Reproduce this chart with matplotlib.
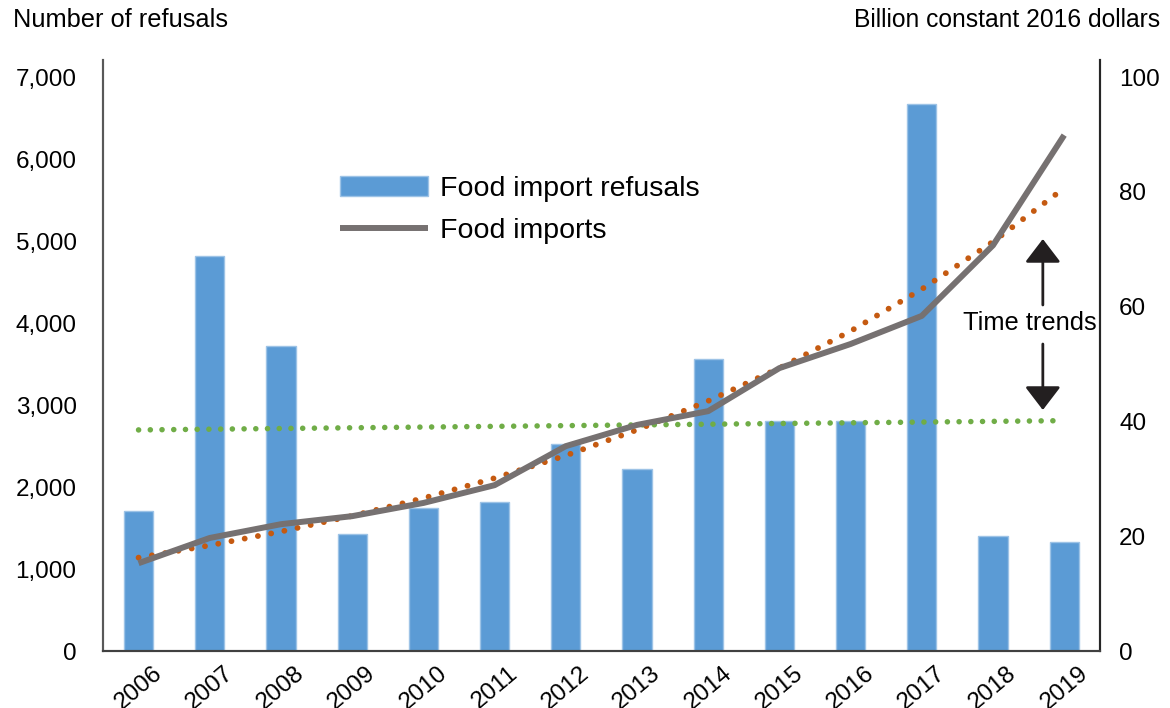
import numpy as np
import matplotlib
matplotlib.use("Agg")
import matplotlib.pyplot as plt

plt.rcParams["font.family"] = ["Liberation Sans", "DejaVu Sans"]

years = [2006, 2007, 2008, 2009, 2010, 2011, 2012, 2013, 2014, 2015, 2016, 2017, 2018, 2019]
refusals = [1707, 4817, 3720, 1427, 1744, 1817, 2524, 2220, 3561, 2805, 2805, 6671, 1402, 1329]
imports = [15.3, 19.7, 22.1, 23.5, 25.8, 28.9, 35.7, 39.4, 41.8, 49.3, 53.5, 58.4, 70.7, 89.9]

x = np.arange(len(years))

# time trends: linear for refusals, exponential for imports
lin = np.polyfit(x, refusals, 1)
refusal_trend = np.polyval(lin, x)
expo = np.polyfit(x, np.log(imports), 1)
import_trend = np.exp(np.polyval(expo, x))

fig = plt.figure(figsize=(11.7, 7.08), dpi=100)
ax = fig.add_axes([0.088, 0.0805, 0.852, 0.8345])
ax2 = ax.twinx()

bars = ax.bar(x, refusals, width=0.41, color="#5B9BD5", edgecolor="#9DC3E6",
              linewidth=1, label="Food import refusals", zorder=2)
ax.plot(x, refusal_trend, color="#70AD47", linewidth=4,
        linestyle=(0, (0.01, 2.1)), dash_capstyle="round", zorder=3)

line, = ax2.plot(x, imports, color="#767171", linewidth=4.3,
                 solid_capstyle="butt", label="Food imports", zorder=4)
ax2.plot(x, import_trend, color="#C55A11", linewidth=4.2,
         linestyle=(0, (0.01, 2.3)), dash_capstyle="round", zorder=3)

ax.set_xlim(-0.5, len(years) - 0.5)
ax.set_ylim(0, 7000 * 591 / 574)
ax2.set_ylim(0, 100 * 591 / 574)
ax.set_yticks(range(0, 7001, 1000))
ax.set_yticklabels([f"{v:,}" for v in range(0, 7001, 1000)])
ax2.set_yticks(range(0, 101, 20))
ax.set_xticks(x)
ax.set_xticklabels([str(y) for y in years], rotation=40, ha="center", va="top")

ax.tick_params(axis="y", length=0, pad=19, labelsize=17.5)
ax2.tick_params(axis="y", length=0, pad=14, labelsize=17.5)
ax.tick_params(axis="x", length=0, pad=8, labelsize=17.5)

for a in (ax, ax2):
    a.spines["top"].set_visible(False)
    a.spines["left"].set_color("#595959")
    a.spines["right"].set_color("#262626")
    a.spines["bottom"].set_color("#404040")
    for s in a.spines.values():
        s.set_linewidth(1.5)

fig.text(13 / 1170, 1 - 20 / 708, "Number of refusals", fontsize=18.3,
         ha="left", va="center")
fig.text(1160 / 1170, 1 - 20 / 708, "Billion constant 2016 dollars", fontsize=17.7,
         ha="right", va="center")

ax.legend([bars, line], ["Food import refusals", "Food imports"],
          loc="upper left", bbox_to_anchor=(0.212, 0.847), frameon=False,
          fontsize=20.5, handlelength=3.1, handleheight=0.7, handletextpad=0.4,
          labelspacing=0.55)

ax2.text(12.52, 57.1, "Time trends", fontsize=18.4, ha="center", va="center")
arrow = dict(arrowstyle="-|>,head_length=0.85,head_width=0.65", color="#231F20",
             linewidth=2, shrinkA=0, shrinkB=0, mutation_scale=17)
ax2.annotate("", xy=(12.70, 71.8), xytext=(12.70, 60.3), arrowprops=arrow)
ax2.annotate("", xy=(12.70, 42.0), xytext=(12.70, 53.5), arrowprops=arrow)

fig.savefig("out.png", dpi=100)
